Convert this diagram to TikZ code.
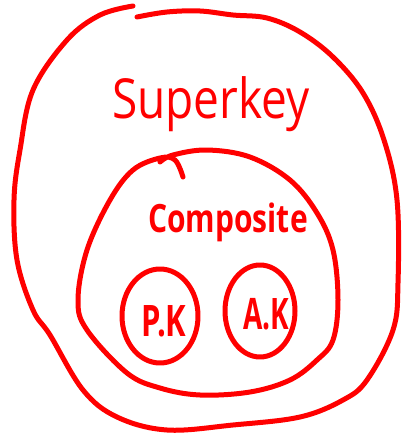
\documentclass[tikz,border=0pt]{standalone}
\usepackage{fontspec}
\setmainfont{Open Sans}
\definecolor{ink}{RGB}{255,0,0}
\begin{document}
\begin{tikzpicture}[x=1pt,y=-1pt,
  pen/.style={draw=ink,line width=5pt,line cap=round,line join=round},
  hand/.style={text=ink,inner sep=0pt,anchor=base}]
\useasboundingbox[fill=white] (0,0) rectangle (403,434);
% outer boundary (Superkey)
\draw[pen] plot[smooth,tension=0.6] coordinates{
 (133,6) (100,15) (67,40) (33,90) (20,150) (14,200) (17,260) (33,310)
 (50,335) (83,390) (117,417) (167,430) (233,425) (300,417) (343,400) (367,380)
 (393,330) (398,283) (397,200) (384,140) (363,93) (333,57) (300,32) (267,18)
 (233,15) (200,11) (167,12) (137,17)};
% composite boundary
\draw[pen] plot[smooth,tension=0.6] coordinates{
 (183,177) (175,160) (160,158) (133,170) (110,200) (87,250) (78,300) (87,330)
 (127,373) (160,388) (200,395) (250,392) (290,380) (317,360) (333,340) (338,300)
 (333,250) (317,213) (290,180) (250,157) (207,150) (173,155) (160,162)};
% P.K and A.K
\draw[pen] (160,316) ellipse [x radius=38,y radius=47];
\draw[pen] (260,311) ellipse [x radius=35,y radius=46];
\node[hand,font=\fontsize{46}{46}\selectfont] (super) at (211,118) {\scalebox{1}[1.2]{Superkey}};
\node[hand,font=\bfseries\fontsize{30}{30}\selectfont] (comp) at (228,232) {\scalebox{1}[1.3]{Composite}};
\node[hand,font=\bfseries\fontsize{31}{31}\selectfont] (pk) at (164,336) {\scalebox{1}[1.4]{P.K}};
\node[hand,font=\bfseries\fontsize{28}{28}\selectfont] (ak) at (266,329) {\scalebox{1}[1.55]{A.K}};
\end{tikzpicture}
\end{document}
